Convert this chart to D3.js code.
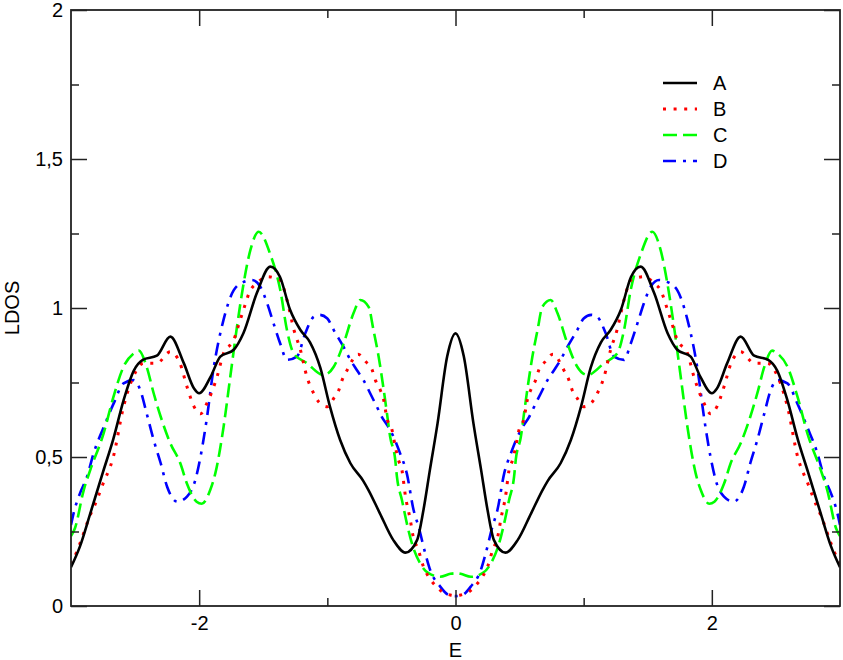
<!DOCTYPE html>
<html>
<head>
<meta charset="utf-8">
<script src="https://cdn.jsdelivr.net/npm/d3@7"></script>
<style>
  html, body { margin: 0; padding: 0; background: #fff; }
  svg { display: block; font-family: "Liberation Sans", Arial, Helvetica, sans-serif; }
</style>
</head>
<body>
<svg id="chart" width="843" height="660"></svg>
<script>
// ---- data ----
const seriesNames = ["A", "B", "C", "D"];

const energyA = [-3.0,-2.93,-2.85,-2.75,-2.67,-2.59,-2.51,-2.44,-2.33,-2.225,-2.12,-2.04,-2.0,-1.91,-1.835,-1.73,-1.655,-1.55,-1.445,-1.37,-1.29,-1.21,-1.135,-1.055,-0.98,-0.9,-0.82,-0.72,-0.68,-0.59,-0.485,-0.39,-0.30,-0.25,-0.2,-0.14,-0.065,0,
  0.065,0.14,0.2,0.25,0.30,0.39,0.485,0.59,0.68,0.72,0.82,0.9,0.98,1.055,1.135,1.21,1.29,1.37,1.445,1.55,1.655,1.73,1.835,1.91,2.0,2.04,2.12,2.225,2.33,2.44,2.51,2.59,2.67,2.75,2.85,2.93,3.0];
const ldosA = [0.13,0.20,0.31,0.45,0.56,0.69,0.79,0.826,0.84,0.904,0.815,0.73,0.714,0.77,0.837,0.86,0.915,1.05,1.139,1.105,0.993,0.926,0.885,0.80,0.67,0.557,0.479,0.42,0.39,0.311,0.221,0.179,0.221,0.322,0.456,0.613,0.837,0.915,
  0.837,0.613,0.456,0.322,0.221,0.179,0.221,0.311,0.39,0.42,0.479,0.557,0.67,0.80,0.885,0.926,0.993,1.105,1.139,1.05,0.915,0.86,0.837,0.77,0.714,0.73,0.815,0.904,0.84,0.826,0.79,0.69,0.56,0.45,0.31,0.20,0.13];

const energyB = [-3.0,-2.96,-2.93,-2.85,-2.82,-2.75,-2.67,-2.59,-2.49,-2.435,-2.33,-2.225,-2.15,-2.095,-2.04,-1.99,-1.94,-1.86,-1.81,-1.73,-1.68,-1.655,-1.6,-1.55,-1.47,-1.37,-1.315,-1.26,-1.21,-1.16,-1.107,-1.065,-1.0,-0.95,-0.91,-0.885,-0.845,-0.76,-0.70,-0.65,-0.625,-0.587,-0.56,-0.535,-0.495,-0.47,-0.445,-0.418,-0.39,-0.355,-0.33,-0.29,-0.25,-0.21,-0.16,-0.106,-0.04,0,
  0.04,0.106,0.16,0.21,0.25,0.29,0.33,0.355,0.39,0.418,0.445,0.47,0.495,0.535,0.56,0.587,0.625,0.65,0.70,0.76,0.845,0.885,0.91,0.95,1.0,1.065,1.107,1.16,1.21,1.26,1.315,1.37,1.47,1.55,1.6,1.655,1.68,1.73,1.81,1.86,1.94,1.99,2.04,2.095,2.15,2.225,2.33,2.435,2.49,2.59,2.67,2.75,2.82,2.85,2.93,2.96,3.0];
const ldosB = [0.14,0.177,0.21,0.305,0.333,0.41,0.50,0.669,0.79,0.815,0.815,0.853,0.815,0.736,0.669,0.645,0.68,0.77,0.848,0.893,0.96,0.993,1.06,1.083,1.105,1.094,1.027,0.926,0.859,0.77,0.714,0.684,0.669,0.697,0.725,0.758,0.792,0.845,0.82,0.792,0.758,0.725,0.691,0.63,0.59,0.535,0.49,0.456,0.367,0.294,0.233,0.188,0.132,0.098,0.07,0.048,0.037,0.035,
  0.037,0.048,0.07,0.098,0.132,0.188,0.233,0.294,0.367,0.456,0.49,0.535,0.59,0.63,0.691,0.725,0.758,0.792,0.82,0.845,0.792,0.758,0.725,0.697,0.669,0.684,0.714,0.77,0.859,0.926,1.027,1.094,1.105,1.083,1.06,0.993,0.96,0.893,0.848,0.77,0.68,0.645,0.669,0.736,0.815,0.853,0.815,0.815,0.79,0.669,0.50,0.41,0.333,0.305,0.21,0.177,0.14];

const energyC = [-3.0,-2.97,-2.9,-2.85,-2.745,-2.67,-2.59,-2.51,-2.47,-2.41,-2.355,-2.30,-2.225,-2.147,-2.095,-2.02,-1.98,-1.913,-1.874,-1.81,-1.757,-1.705,-1.653,-1.6,-1.536,-1.445,-1.367,-1.315,-1.263,-1.16,-1.03,-0.95,-0.874,-0.796,-0.743,-0.678,-0.64,-0.6,-0.56,-0.535,-0.51,-0.47,-0.457,-0.418,-0.38,-0.34,-0.276,-0.211,-0.12,-0.04,0,
  0.04,0.12,0.211,0.276,0.34,0.38,0.418,0.457,0.47,0.51,0.535,0.56,0.6,0.64,0.678,0.743,0.796,0.874,0.95,1.03,1.16,1.263,1.315,1.367,1.445,1.536,1.6,1.653,1.705,1.757,1.81,1.874,1.913,1.98,2.02,2.095,2.147,2.225,2.30,2.355,2.41,2.47,2.51,2.59,2.67,2.745,2.85,2.9,2.97,3.0];
const ldosC = [0.235,0.26,0.39,0.456,0.58,0.70,0.803,0.848,0.857,0.803,0.714,0.635,0.546,0.479,0.41,0.35,0.343,0.39,0.445,0.60,0.77,0.937,1.083,1.195,1.256,1.18,1.06,0.926,0.848,0.815,0.775,0.803,0.88,0.982,1.027,1.004,0.926,0.837,0.725,0.647,0.568,0.49,0.434,0.356,0.278,0.21,0.143,0.11,0.098,0.108,0.11,
  0.108,0.098,0.11,0.143,0.21,0.278,0.356,0.434,0.49,0.568,0.647,0.725,0.837,0.926,1.004,1.027,0.982,0.88,0.803,0.775,0.815,0.848,0.926,1.06,1.18,1.256,1.195,1.083,0.937,0.77,0.60,0.445,0.39,0.343,0.35,0.41,0.479,0.546,0.635,0.714,0.803,0.857,0.848,0.803,0.70,0.58,0.456,0.39,0.26,0.235];

const energyD = [-3.0,-2.98,-2.93,-2.875,-2.824,-2.745,-2.667,-2.59,-2.51,-2.46,-2.41,-2.355,-2.30,-2.25,-2.17,-2.095,-2.03,-1.99,-1.94,-1.89,-1.81,-1.73,-1.65,-1.588,-1.524,-1.47,-1.42,-1.367,-1.315,-1.237,-1.172,-1.107,-1.06,-1.0,-0.95,-0.874,-0.82,-0.77,-0.718,-0.666,-0.614,-0.575,-0.523,-0.484,-0.432,-0.38,-0.327,-0.288,-0.236,-0.197,-0.119,-0.054,0,
  0.054,0.119,0.197,0.236,0.288,0.327,0.38,0.432,0.484,0.523,0.575,0.614,0.666,0.718,0.77,0.82,0.874,0.95,1.0,1.06,1.107,1.172,1.237,1.315,1.367,1.42,1.47,1.524,1.588,1.65,1.73,1.81,1.89,1.94,1.99,2.03,2.095,2.17,2.25,2.30,2.355,2.41,2.46,2.51,2.59,2.667,2.745,2.824,2.875,2.93,2.98,3.0];
const ldosD = [0.272,0.311,0.378,0.434,0.512,0.60,0.68,0.747,0.758,0.725,0.647,0.557,0.479,0.40,0.35,0.367,0.423,0.50,0.63,0.79,0.96,1.06,1.088,1.094,1.072,1.016,0.949,0.88,0.826,0.837,0.915,0.97,0.977,0.965,0.926,0.87,0.826,0.792,0.758,0.714,0.669,0.635,0.60,0.568,0.512,0.445,0.322,0.266,0.177,0.12,0.065,0.037,0.033,
  0.037,0.065,0.12,0.177,0.266,0.322,0.445,0.512,0.568,0.60,0.635,0.669,0.714,0.758,0.792,0.826,0.87,0.926,0.965,0.977,0.97,0.915,0.837,0.826,0.88,0.949,1.016,1.072,1.094,1.088,1.06,0.96,0.79,0.63,0.50,0.423,0.367,0.35,0.40,0.479,0.557,0.647,0.725,0.758,0.747,0.68,0.60,0.512,0.434,0.378,0.311,0.272];

const xMajorTicks = [-2, 0, 2];
const xMinorTicks = [-1, 1];
const yMajorTicks = [0, 0.5, 1, 1.5, 2];
const yMinorTicks = [0.25, 0.75, 1.25, 1.75];
const xLabel = "E";
const yLabel = "LDOS";

// ---- styles ----
const styles = {
  A: { color: "#000000", width: 2.6, dash: null, cap: "butt" },
  B: { color: "#ff0000", width: 3, dash: "3,7.6", cap: "butt" },
  C: { color: "#00ff00", width: 2.6, dash: "14,6", cap: "butt" },
  D: { color: "#0000ff", width: 2.6, dash: "13,7,3,7", cap: "butt" }
};

const svg = d3.select("#chart");
const pLeft = 71, pRight = 840, pTop = 10, pBottom = 606;

const x = d3.scaleLinear().domain([-3, 3]).range([pLeft, pRight]);
const y = d3.scaleLinear().domain([0, 2]).range([pBottom, pTop]);

svg.append("defs").append("clipPath").attr("id", "clip")
  .append("rect").attr("x", pLeft).attr("y", pTop).attr("width", pRight - pLeft).attr("height", pBottom - pTop);

const series = [
  { name: "A", e: energyA, v: ldosA },
  { name: "B", e: energyB, v: ldosB },
  { name: "C", e: energyC, v: ldosC },
  { name: "D", e: energyD, v: ldosD }
];

const line = d3.line().x(d => x(d[0])).y(d => y(d[1])).curve(d3.curveMonotoneX);

const plot = svg.append("g").attr("clip-path", "url(#clip)");
[...series].reverse().forEach(s => {
  const st = styles[s.name];
  plot.append("path")
    .datum(s.e.map((e, i) => [e, s.v[i]]))
    .attr("d", line)
    .attr("fill", "none")
    .attr("stroke", st.color)
    .attr("stroke-width", st.width)
    .attr("stroke-linecap", st.cap)
    .attr("stroke-linejoin", "round")
    .attr("stroke-dasharray", st.dash);
});

// ---- axes ----
const fmt = d => String(d).replace(".", ",");
const axisColor = "#222";
function styleAxis(g) {
  g.select(".domain").remove();
  g.selectAll("line").attr("stroke", axisColor).attr("stroke-width", 1.5);
  g.selectAll("text").attr("fill", "#000").style("font-size", "20px")
    .style("font-family", '"Liberation Sans", Arial, Helvetica, sans-serif');
}
svg.append("g").attr("transform", `translate(0,${pBottom})`)
  .call(d3.axisBottom(x).tickValues(xMajorTicks).tickSize(-16).tickPadding(10).tickFormat(fmt))
  .call(styleAxis);
svg.append("g").attr("transform", `translate(0,${pBottom})`)
  .call(d3.axisBottom(x).tickValues(xMinorTicks).tickSize(-8).tickFormat(""))
  .call(styleAxis);
svg.append("g").attr("transform", `translate(0,${pTop})`)
  .call(d3.axisTop(x).tickValues(xMajorTicks).tickSize(-16).tickFormat(""))
  .call(styleAxis);
svg.append("g").attr("transform", `translate(0,${pTop})`)
  .call(d3.axisTop(x).tickValues(xMinorTicks).tickSize(-8).tickFormat(""))
  .call(styleAxis);
svg.append("g").attr("transform", `translate(${pLeft},0)`)
  .call(d3.axisLeft(y).tickValues(yMajorTicks).tickSize(-16).tickPadding(8).tickFormat(fmt))
  .call(styleAxis);
svg.append("g").attr("transform", `translate(${pLeft},0)`)
  .call(d3.axisLeft(y).tickValues(yMinorTicks).tickSize(-8).tickFormat(""))
  .call(styleAxis);
svg.append("g").attr("transform", `translate(${pRight},0)`)
  .call(d3.axisRight(y).tickValues(yMajorTicks).tickSize(-16).tickFormat(""))
  .call(styleAxis);
svg.append("g").attr("transform", `translate(${pRight},0)`)
  .call(d3.axisRight(y).tickValues(yMinorTicks).tickSize(-8).tickFormat(""))
  .call(styleAxis);

svg.append("rect")
  .attr("x", pLeft).attr("y", pTop).attr("width", pRight - pLeft).attr("height", pBottom - pTop)
  .attr("fill", "none").attr("stroke", axisColor).attr("stroke-width", 1.8);

svg.append("text").attr("x", (pLeft + pRight) / 2).attr("y", 657)
  .attr("text-anchor", "middle").style("font-size", "20px").text(xLabel);
svg.append("text").attr("transform", `translate(19,${(pTop + pBottom) / 2}) rotate(-90)`)
  .attr("text-anchor", "middle").style("font-size", "20px").text(yLabel);

// ---- legend ----
const legend = svg.append("g");
series.forEach((s, i) => {
  const st = styles[s.name];
  const ly = 83 + i * 26;
  legend.append("line")
    .attr("x1", 663).attr("x2", 697).attr("y1", ly).attr("y2", ly)
    .attr("stroke", st.color).attr("stroke-width", st.width)
    .attr("stroke-dasharray", st.dash).attr("stroke-linecap", st.cap);
  legend.append("text").attr("x", 713).attr("y", ly).attr("dy", "0.35em")
    .style("font-size", "20px").text(s.name);
});
</script>
</body>
</html>
